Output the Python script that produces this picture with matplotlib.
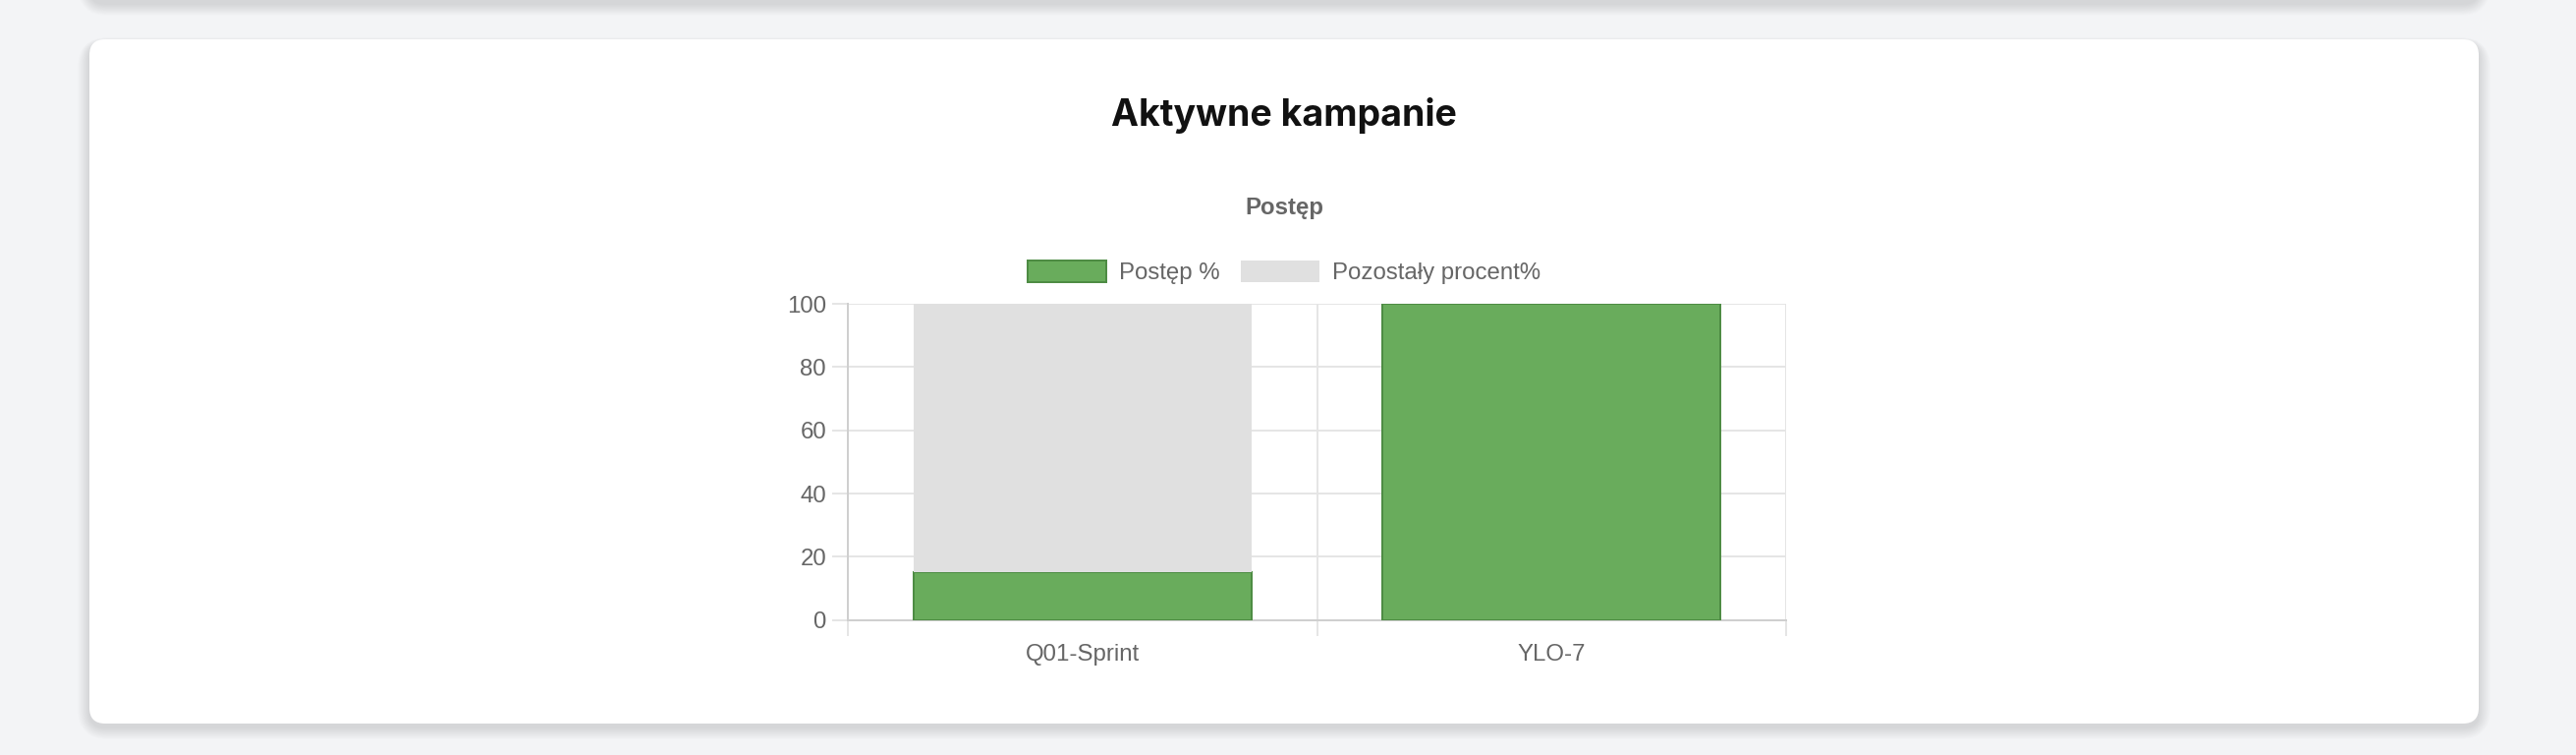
import matplotlib.pyplot as plt
from matplotlib.patches import FancyBboxPatch
import numpy as np

# data
categories = ['Q01-Sprint', 'YLO-7']
progress = [15, 100]
remaining = [85, 0]
y_ticks = [0, 20, 40, 60, 80, 100]

W, H = 2622, 768
PX = 0.72  # points per pixel at dpi 100

green = '#69ac5c'
green_edge = '#4e8c44'
grey = '#e0e0e0'
grid_c = '#e5e5e5'
axis_c = '#cfcfcf'
text_c = '#666666'

plt.rcParams['font.family'] = ['Liberation Sans', 'DejaVu Sans']

fig = plt.figure(figsize=(W / 100, H / 100), dpi=100)
fig.patch.set_facecolor('#f3f4f6')

# page background with cards
bg = fig.add_axes([0, 0, 1, 1])
bg.set_xlim(0, W)
bg.set_ylim(H, 0)
bg.axis('off')


def card(x0, y0, x1, y1):
    # soft shadow
    for k in range(1, 16):
        bg.add_patch(FancyBboxPatch((x0 - k * 0.8, y0 - k * 0.4 + 4), x1 - x0 + k * 1.6, y1 - y0 + k * 1.2,
                                    boxstyle='round,pad=0,rounding_size=%d' % (16 + k),
                                    facecolor='black', edgecolor='none', alpha=0.006))
    bg.add_patch(FancyBboxPatch((x0, y0), x1 - x0, y1 - y0,
                                boxstyle='round,pad=0,rounding_size=16',
                                facecolor='white', edgecolor='none'))


card(91, -60, 2523, 0)
card(91, 40, 2523, 736)

cx = 1307
bg.text(cx, 128, 'Aktywne kampanie', ha='center', va='baseline', fontsize=37.5 * PX,
        fontweight='bold', color='#111111', family=['Inter', 'DejaVu Sans'])
bg.text(cx, 218, 'Postęp', ha='center', va='baseline', fontsize=24 * PX,
        fontweight='bold', color=text_c)

# chart area
left, right, top, bottom = 863, 1818, 309, 630.7
ax = fig.add_axes([left / W, 1 - bottom / H, (right - left) / W, (bottom - top) / H])
ax.set_facecolor('none')

x = np.arange(len(categories))
b1 = ax.bar(x, progress, width=0.72, color=green, edgecolor=green_edge, linewidth=2 * PX,
            label='Postęp %', zorder=3)
b2 = ax.bar(x, remaining, bottom=progress, width=0.72, color=grey, edgecolor=grey, linewidth=0,
            label='Pozostały procent%', zorder=3)

ax.set_xlim(-0.5, len(categories) - 0.5)
ax.set_ylim(0, 100)
ax.set_yticks(y_ticks)
ax.set_xticks(x)
ax.set_xticklabels(categories)
ax.set_xticks(np.arange(len(categories) + 1) - 0.5, minor=True)

ax.set_axisbelow(True)
ax.grid(axis='y', which='major', color=grid_c, linewidth=2 * PX)
ax.grid(axis='x', which='minor', color=grid_c, linewidth=2 * PX)

for s in ['top', 'right']:
    ax.spines[s].set_visible(False)
for s in ['left', 'bottom']:
    ax.spines[s].set_color(axis_c)
    ax.spines[s].set_linewidth(2 * PX)

ax.tick_params(axis='y', which='major', length=16 * PX, width=2 * PX, color=grid_c,
               labelsize=24 * PX, labelcolor=text_c, pad=6 * PX)
ax.tick_params(axis='x', which='major', length=0, labelsize=24 * PX, labelcolor=text_c, pad=24 * PX)
ax.tick_params(axis='x', which='minor', length=16 * PX, width=2 * PX, color=grid_c)

leg = fig.legend(handles=[b1, b2], loc='center', bbox_to_anchor=(cx / W, 1 - 277 / H), ncol=2,
                 frameon=False, fontsize=24 * PX, handlelength=80 / 24, handleheight=25 / 24,
                 handletextpad=13 / 24, columnspacing=21 / 24, borderpad=0, labelcolor=text_c)

fig.savefig('out.png', dpi=100, facecolor=fig.get_facecolor())
